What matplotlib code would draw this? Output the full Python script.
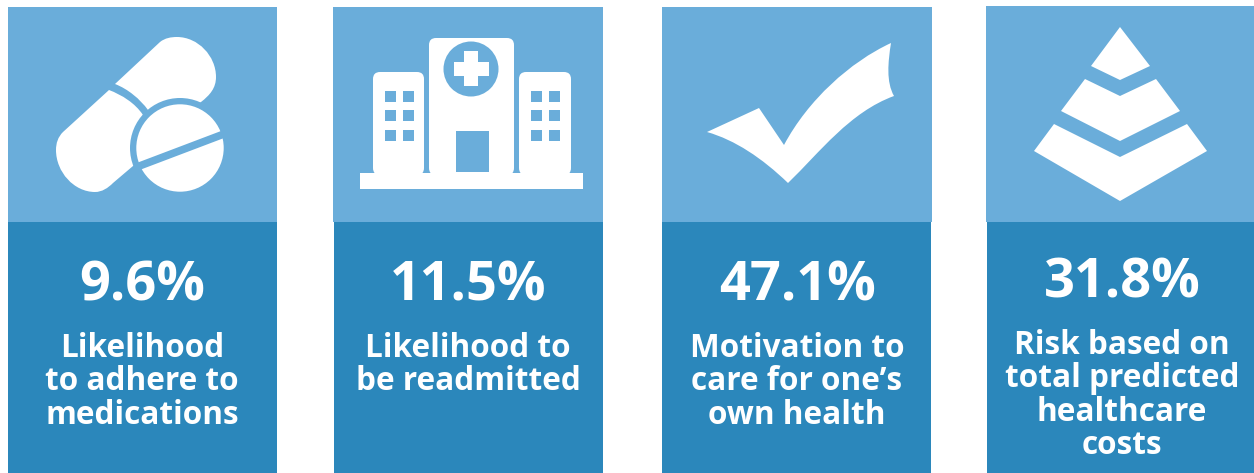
import matplotlib
matplotlib.use("Agg")
import matplotlib.pyplot as plt
from matplotlib.patches import Circle, PathPatch, Polygon, Rectangle, FancyBboxPatch
from matplotlib.path import Path

values = ["9.6%", "11.5%", "47.1%", "31.8%"]
labels = [
    ["Likelihood", "to adhere to", "medications"],
    ["Likelihood to", "be readmitted"],
    ["Motivation to", "care for one\u2019s", "own health"],
    ["Risk based on", "total predicted", "healthcare", "costs"],
]
light_boxes = [(8, 277, 7), (333, 603, 7), (662, 932, 7), (986, 1254, 6)]
dark_boxes = [(8, 277), (334, 603), (662, 931), (987, 1254)]
value_y = [286, 286, 286, 283]
label_y = [348, 348, 348, 345]
label_x = [142, 468, 797, 1122]

LIGHT = "#6aadda"
DARK = "#2b87bb"
WHITE = "white"
FONT = "Open Sans"

fig = plt.figure(figsize=(12.54, 4.73), dpi=100)
ax = fig.add_axes([0, 0, 1, 1])
ax.set_xlim(0, 1254)
ax.set_ylim(473, 0)
ax.axis("off")


def bez(verts, codes, color):
    ax.add_patch(PathPatch(Path(verts, codes), fc=color, ec="none"))


def rbox(x0, y0, x1, y1, r, color):
    ax.add_patch(FancyBboxPatch((x0 + r, y0 + r), x1 - x0 - 2 * r, y1 - y0 - 2 * r,
                                boxstyle="round,pad=%f,rounding_size=%f" % (r, r),
                                fc=color, ec="none"))


def rect(x0, y0, x1, y1, color):
    ax.add_patch(Rectangle((x0, y0), x1 - x0, y1 - y0, fc=color, ec="none"))


def pills():
    M, L, C = Path.MOVETO, Path.LINETO, Path.CURVE4
    # lower half of the capsule
    bez([(109, 90), (63, 132), (58, 137), (56, 143), (56, 150), (56, 172), (74, 192), (95, 192),
         (102, 192), (108, 188), (113, 183), (133, 166), (150, 150), (143, 115),
         (135, 103), (122, 95), (109, 90)],
        [M, L, C, C, C, C, C, C, C, C, C, L, L, L, C, C, C], WHITE)
    # upper half
    bez([(115, 84), (160, 42), (165, 38), (171, 37), (177, 37), (198, 37), (216, 56), (216, 77),
         (216, 88), (210, 95), (201, 102), (185, 115), (148, 110), (140, 99), (128, 89), (115, 84)],
        [M, L, C, C, C, C, C, C, C, C, C, L, L, C, C, C], WHITE)
    ax.add_patch(Circle((180, 148), 50, fc=LIGHT, ec="none"))
    ax.add_patch(Circle((180, 148), 43.7, fc=WHITE, ec="none"))
    strip = Polygon([(130, 165.5), (225, 129.5), (228, 136.5), (133, 172.5)], fc=LIGHT, ec="none")
    ax.add_patch(strip)
    strip.set_clip_path(Circle((180, 148), 44.5, transform=ax.transData))


def hospital():
    rect(360, 173, 583, 189, WHITE)
    rbox(373, 72, 424, 175, 7, WHITE)
    rbox(519, 72, 571, 175, 7, WHITE)
    rbox(429, 38, 514, 175, 7, WHITE)
    ax.add_patch(Circle((471, 69), 27.5, fc=LIGHT, ec="none"))
    rect(454, 62, 489, 76, WHITE)
    rect(464, 51, 478, 86, WHITE)
    rect(456, 131, 489, 172, LIGHT)
    for x in [385, 403, 531, 549]:
        for y in [91, 110, 130]:
            rect(x, y, x + 11, y + 11, LIGHT)


def check():
    M, L, C = Path.MOVETO, Path.LINETO, Path.CURVE4
    bez([(707, 132), (759, 108), (784, 145), (808, 100), (850, 62), (891, 43),
         (888, 62), (886, 82), (894, 96), (850, 112), (820, 152), (788, 183),
         (762, 158), (735, 140), (707, 132)],
        [M, L, L, C, C, C, C, C, C, C, C, C, C, C, C], WHITE)


def pyramid():
    tiers = [
        [(1120, 27), (1150, 66), (1120, 80), (1091, 66)],
        [(1085, 79), (1120, 96), (1156, 79), (1180, 111), (1120, 141), (1061, 111)],
        [(1054, 124), (1120, 157), (1187, 124), (1207, 151), (1120, 201), (1034, 151)],
    ]
    for t in tiers:
        ax.add_patch(Polygon(t, fc=WHITE, ec="none"))


for i in range(4):
    x0, x1, top = light_boxes[i]
    rect(x0, top, x1, 222, LIGHT)
    rect(dark_boxes[i][0], 222, dark_boxes[i][1], 473, DARK)
    ax.text(label_x[i], value_y[i], values[i], color=WHITE, fontsize=39, family=FONT,
            weight="bold", ha="center", va="center")
    for j, line in enumerate(labels[i]):
        ax.text(label_x[i], label_y[i] + j * 33.5, line, color=WHITE, fontsize=22.7, family=FONT,
                weight="bold", ha="center", va="center")

pills()
hospital()
check()
pyramid()

fig.savefig("out.png", dpi=100, facecolor="white")
